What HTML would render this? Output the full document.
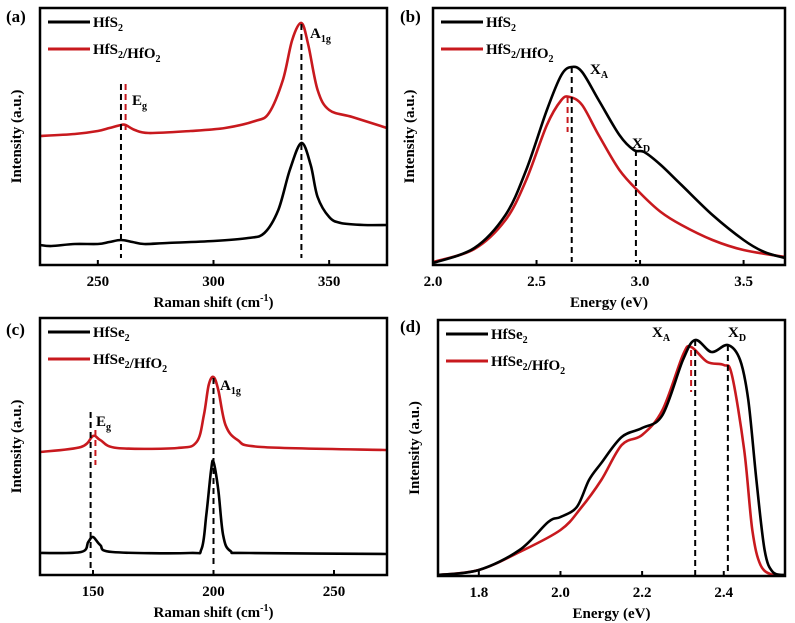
<!DOCTYPE html>
<html><head><meta charset="utf-8"><style>
body{margin:0;background:#fff}
svg{display:block;font-family:"Liberation Serif",serif;font-weight:bold}
</style></head><body>
<svg id="c" width="795" height="623"></svg>
<script>
// Panel (a) data: Raman shift vs intensity
const aX=[225,230,240,250,255,260,265,270,280,300,315,322,328,333,338,342,345,350,355,365,375];
const aBlack=[20,19,21,21,23,25,23,21,22,24,27,32,55,95,122,100,68,48,42,40,40];
const aRedX=[225,240,250,255,260,262,266,272,290,305,318,324,330,334,338,341,345,350,360,375];
const aRed=[129,131,134,137,140,140,135,132,134,137,144,152,185,225,242,220,175,155,148,137];
const aTicks=[250,300,350];
// Panel (b)
const bX=[2.0,2.2,2.35,2.45,2.55,2.62,2.67,2.72,2.8,2.9,2.97,3.02,3.1,3.2,3.35,3.5,3.6,3.7];
const bBlack=[2,17,50,95,155,190,198,193,165,130,115,113,100,80,50,25,13,7];
const bRedX=[2.0,2.2,2.35,2.45,2.55,2.62,2.66,2.72,2.8,2.9,3.0,3.1,3.2,3.35,3.5,3.7];
const bRed=[3,16,45,85,140,165,168,160,130,95,72,53,40,25,15,8];
const bTicks=[2.0,2.5,3.0,3.5];
// Panel (c)
const cX=[128,145,148,150,153,158,190,195,197,199,200,202,204,207,215,272];
const cBlack=[22,23,33,38,30,23,22,26,60,105,113,85,40,24,22,21];
const cRedX=[128,145,150,153,160,185,193,196,198,200,202,205,210,220,272];
const cRed=[123,128,139,135,127,127,133,160,190,198,185,150,135,128,125];
const cTicks=[150,200,250];
// Panel (d)
const dX=[1.7,1.8,1.9,1.97,2.0,2.04,2.07,2.1,2.15,2.2,2.25,2.3,2.33,2.37,2.41,2.44,2.46,2.48,2.5,2.52,2.55];
const dBlack=[1,6,26,54,59,69,96,113,139,148,161,216,236,224,231,216,176,96,26,4,1];
const dRedX=[1.7,1.8,1.9,2.0,2.05,2.1,2.15,2.2,2.25,2.3,2.32,2.36,2.4,2.42,2.45,2.47,2.49,2.52,2.55];
const dRed=[1,6,24,46,68,96,131,141,166,221,229,214,211,201,126,46,11,1,1];
const dTicks=[1.8,2.0,2.2,2.4];

const svg=document.getElementById('c');
const NS='http://www.w3.org/2000/svg';
function mk(tag,at,parent){const e=document.createElementNS(NS,tag);for(const k in at)e.setAttribute(k,at[k]);(parent||svg).appendChild(e);return e;}
function txt(s,x,y,size,parent,anchor){const t=mk('text',{x:x,y:y,'font-size':size,'text-anchor':anchor||'start'},parent);t.innerHTML=s;return t;}
function smooth(pts){
  let d='M'+pts[0][0].toFixed(1)+' '+pts[0][1].toFixed(1);
  for(let i=0;i<pts.length-1;i++){
    const p0=pts[Math.max(0,i-1)],p1=pts[i],p2=pts[i+1],p3=pts[Math.min(pts.length-1,i+2)];
    const c1=[p1[0]+(p2[0]-p0[0])/6,p1[1]+(p2[1]-p0[1])/6];
    const c2=[p2[0]-(p3[0]-p1[0])/6,p2[1]-(p3[1]-p1[1])/6];
    d+=' C'+c1[0].toFixed(1)+' '+c1[1].toFixed(1)+' '+c2[0].toFixed(1)+' '+c2[1].toFixed(1)+' '+p2[0].toFixed(1)+' '+p2[1].toFixed(1);
  }
  return d;
}

function panel(p){
  const g=mk('g',{});
  
  
  const sx=v=>p.x0+(v-p.d0)/(p.d1-p.d0)*(p.x1-p.x0);
  const sy=v=>p.y1-v;
  const cp=mk('clipPath',{id:'cl'+p.id},g);
  mk('rect',{x:p.x0,y:p.y0,width:p.x1-p.x0,height:p.y1-p.y0},cp);
  const inner=mk('g',{'clip-path':'url(#cl'+p.id+')'},g);
  const draw=(xs,ys,col,name)=>{
    const d=smooth(xs.map((x,i)=>[sx(x),sy(ys[i])]));
    const e=mk('path',{d:d,fill:'none',stroke:col,'stroke-width':2.6,'stroke-linejoin':'round'},inner);
    
    
  };
  draw(p.xr,p.red,'#c8191e','red-series');
  draw(p.xb,p.black,'#000','black-series');
  p.dash.forEach(dl=>{
    const e=mk('line',{x1:sx(dl[0]),x2:sx(dl[0]),y1:dl[1],y2:dl[2],stroke:dl[3],'stroke-width':2,'stroke-dasharray':'6,4'},g);
    
    
  });
  const b=mk('rect',{x:p.x0,y:p.y0,width:p.x1-p.x0,height:p.y1-p.y0,fill:'none',stroke:'#000','stroke-width':2.5},g);
  
  
  p.ticks.forEach(t=>{
    mk('line',{x1:sx(t),x2:sx(t),y1:p.y1,y2:p.y1-5,stroke:'#000','stroke-width':2},g);
    const l=txt(t.toFixed(p.dec),sx(t),p.y1+21,15,g,'middle');
    
    
  });
  const pl=txt(p.letter,p.lx,p.ly,17,g);
  
  
  const xt=txt(p.xtitle,(p.x0+p.x1)/2,p.y1+42,15,g,'middle');
  
  
  const yt=txt('Intensity (a.u.)',0,0,15,g,'middle');
  yt.setAttribute('transform','translate('+(p.x0-19)+','+((p.y0+p.y1)/2)+') rotate(-90)');
  
  
  [[p.leg[0],'#000',p.y0+14],[p.leg[1],'#c8191e',p.y0+41]].forEach(l=>{
    const le=mk('g',{},g);
    
    
    mk('line',{x1:p.x0+8,x2:p.x0+50,y1:l[2],y2:l[2],stroke:l[1],'stroke-width':3},le);
    txt(l[0],p.x0+53,l[2]+5,15,le);
  });
  p.ann.forEach(a=>{
    const e=txt(a[0],a[1],a[2],15,g);
    
    
  });
}
const sub=s=>'<tspan font-size="10" dy="4">'+s+'</tspan><tspan dy="-4"></tspan>';
panel({id:'a',letter:'(a)',lx:6,ly:22,x0:40,x1:387,y0:8,y1:265,d0:225,d1:375,dec:0,xb:aX,black:aBlack,xr:aRedX,red:aRed,ticks:aTicks,
  xtitle:'Raman shift (cm<tspan font-size="10" dy="-6">-1</tspan><tspan dy="6">)</tspan>',
  leg:['HfS'+sub('2'),'HfS'+sub('2')+'/HfO'+sub('2')],
  dash:[[260,84,258,'#000'],[262,84,130,'#c8191e'],[338,24,258,'#000']],
  ann:[['E'+sub('g'),132,105],['A'+sub('1g'),310,38]]});
panel({id:'b',letter:'(b)',lx:400,ly:22,x0:433,x1:785,y0:8,y1:265,d0:2.0,d1:3.7,dec:1,xb:bX,black:bBlack,xr:bRedX,red:bRed,ticks:bTicks,
  xtitle:'Energy (eV)',
  leg:['HfS'+sub('2'),'HfS'+sub('2')+'/HfO'+sub('2')],
  dash:[[2.67,67,262,'#000'],[2.65,97,132,'#c8191e'],[2.98,150,262,'#000']],
  ann:[['X'+sub('A'),590,74],['X'+sub('D'),632,148]]});
panel({id:'c',letter:'(c)',lx:6,ly:335,x0:40,x1:387,y0:318,y1:575,d0:128,d1:272,dec:0,xb:cX,black:cBlack,xr:cRedX,red:cRed,ticks:cTicks,
  xtitle:'Raman shift (cm<tspan font-size="10" dy="-6">-1</tspan><tspan dy="6">)</tspan>',
  leg:['HfSe'+sub('2'),'HfSe'+sub('2')+'/HfO'+sub('2')],
  dash:[[149,412,570,'#000'],[151,430,465,'#c8191e'],[200,378,565,'#000']],
  ann:[['E'+sub('g'),96,426],['A'+sub('1g'),220,390]]});
panel({id:'d',letter:'(d)',lx:400,ly:332,x0:438,x1:785,y0:320,y1:576,d0:1.7,d1:2.55,dec:1,xb:dX,black:dBlack,xr:dRedX,red:dRed,ticks:dTicks,
  xtitle:'Energy (eV)',
  leg:['HfSe'+sub('2'),'HfSe'+sub('2')+'/HfO'+sub('2')],
  dash:[[2.33,340,576,'#000'],[2.32,350,392,'#c8191e'],[2.41,345,576,'#000']],
  ann:[['X'+sub('A'),652,337],['X'+sub('D'),728,337]]});
</script>
</body></html>
